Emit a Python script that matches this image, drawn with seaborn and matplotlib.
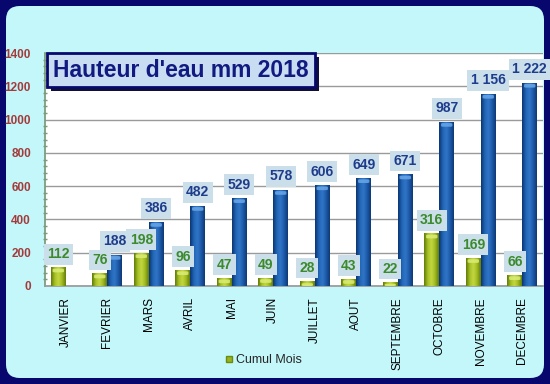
import pandas as pd
import numpy as np
import seaborn as sns
import matplotlib.pyplot as plt
from matplotlib.patches import FancyBboxPatch, Rectangle
from matplotlib.lines import Line2D
from matplotlib.colors import LinearSegmentedColormap
from matplotlib.ticker import MultipleLocator

months = ["JANVIER", "FEVRIER", "MARS", "AVRIL", "MAI", "JUIN", "JUILLET",
          "AOUT", "SEPTEMBRE", "OCTOBRE", "NOVEMBRE", "DECEMBRE"]
mois = [112, 76, 198, 96, 47, 49, 28, 43, 22, 316, 169, 66]
cumul = [np.nan, 188, 386, 482, 529, 578, 606, 649, 671, 987, 1156, 1222]
yticks = [0, 200, 400, 600, 800, 1000, 1200, 1400]

green = "#98b420"
blue = "#1f5ea8"
navy = "#07076e"
cyan = "#c4f7fa"

df = pd.DataFrame({
    "mois": months * 2,
    "valeur": mois + cumul,
    "serie": ["Mois"] * 12 + ["Cumul"] * 12,
})

sns.set_theme(style="white")
plt.rcParams["font.family"] = ["Liberation Sans", "DejaVu Sans"]

fig = plt.figure(figsize=(5.5, 3.84), dpi=100)
fig.patch.set_facecolor(navy)
W, H = 550, 384
bg = FancyBboxPatch((6 / W, 6 / H), 538 / W, 372 / H,
                    boxstyle="round,pad=0,rounding_size=0.025",
                    transform=fig.transFigure, facecolor=cyan, edgecolor="none",
                    mutation_aspect=W / H, zorder=-10)
fig.patches.append(bg)

ax = fig.add_axes([45 / W, 1 - 286 / H, 498 / W, 233 / H], zorder=1)
ax.set_facecolor("white")
sns.barplot(data=df, x="mois", y="valeur", hue="serie", order=months,
            hue_order=["Mois", "Cumul"], palette=[green, blue],
            width=0.72, gap=0, dodge=True, ax=ax, legend=False,
            edgecolor="none", saturation=1, zorder=3)
ax.set_ylim(0, 1400)
ax.set_xlim(-0.5, 11.5)

# cylinder-like shading on every bar
cm_green = LinearSegmentedColormap.from_list("g", ["#5f7a08", "#a6c028", "#c4d840", "#a0ba22", "#627c0a"])
cm_blue = LinearSegmentedColormap.from_list("b", ["#0c3470", "#2064b4", "#3276c8", "#1c5aa8", "#0e3874"])
grad = np.linspace(0, 1, 64).reshape(1, -1)
for p in list(ax.patches):
    h = p.get_height()
    if np.isnan(h) or h <= 0:
        continue
    is_green = p.get_facecolor()[1] > 0.55
    x0, w = p.get_x(), p.get_width()
    im = ax.imshow(grad, cmap=cm_green if is_green else cm_blue, aspect="auto",
                   extent=(x0, x0 + w, 0, h), zorder=3.5, interpolation="bicubic")
    im.set_clip_path(p)
    cap = "#dcec78" if is_green else "#6aa8e8"
    ax.add_patch(FancyBboxPatch((x0 + w * 0.12, max(h - 30, 0)), w * 0.76, min(22, h * 0.6),
                                boxstyle="round,pad=0,rounding_size=0.05",
                                mutation_aspect=100, facecolor=cap,
                                edgecolor="none", zorder=4, alpha=0.85))
ax.set_ylim(0, 1400)
ax.set_xlim(-0.5, 11.5)

ax.set_yticks(yticks)
ax.set_yticklabels([str(v) for v in yticks], color="#a23c3c",
                   fontsize=8.5, fontweight="bold")
ax.yaxis.grid(True, color="#9a9a9a", linewidth=1, zorder=0)
ax.set_axisbelow(True)
ax.set_xlabel("")
ax.set_ylabel("")
ax.tick_params(axis="y", which="major", length=4, color="#7a9a7a", pad=8, direction="inout")
ax.yaxis.set_minor_locator(MultipleLocator(40))
ax.tick_params(axis="y", which="minor", length=3, color="#7a9a7a", direction="inout", left=True)
ax.tick_params(axis="x", length=0, pad=8)
ax.set_xticks(range(12))
ax.set_xticklabels(months, rotation=90, fontsize=8.5, color="black")
for s in ["top", "right"]:
    ax.spines[s].set_visible(False)
ax.spines["left"].set_color("#7a9a7a")
ax.spines["bottom"].set_color("#9a9a9a")

box = dict(boxstyle="square,pad=0.25", facecolor="#cadfea", edgecolor="none")
off = 0.18
for i, v in enumerate(mois):
    ax.text(i - off, v + 38, str(v), ha="center", va="bottom", fontsize=10,
            fontweight="bold", color="#3c8a2c", bbox=box, zorder=6)
for i, v in enumerate(cumul):
    if np.isnan(v):
        continue
    lab = f"{int(v):,}".replace(",", " ")
    ax.text(i + off, v + 38, lab, ha="center", va="bottom", fontsize=10,
            fontweight="bold", color="#1e3c8c", bbox=box, zorder=6, clip_on=False)

# title box with shadow
fig.patches.append(Rectangle((51 / W, 1 - 91 / H), 268 / W, 34 / H,
                             transform=fig.transFigure, facecolor="#101030",
                             edgecolor="none", zorder=5))
fig.patches.append(Rectangle((47 / W, 1 - 87 / H), 268 / W, 34 / H,
                             transform=fig.transFigure, facecolor="#c8dcf2",
                             edgecolor=navy, linewidth=2, zorder=6))
fig.text(181 / W, 1 - 70.5 / H, "Hauteur d'eau mm 2018", ha="center",
         va="center", fontsize=16.5, fontweight="bold", color="#101a80", zorder=7)

handle = Line2D([], [], marker="s", linestyle="none", markersize=5,
                markerfacecolor=green, markeredgecolor="#6a8a10")
fig.legend([handle], ["Cumul Mois"], loc="center", bbox_to_anchor=(263 / W, 1 - 360 / H),
           frameon=False, fontsize=9, handletextpad=0.1, handlelength=0.8)

fig.savefig("out.png", dpi=100, facecolor=fig.get_facecolor())
